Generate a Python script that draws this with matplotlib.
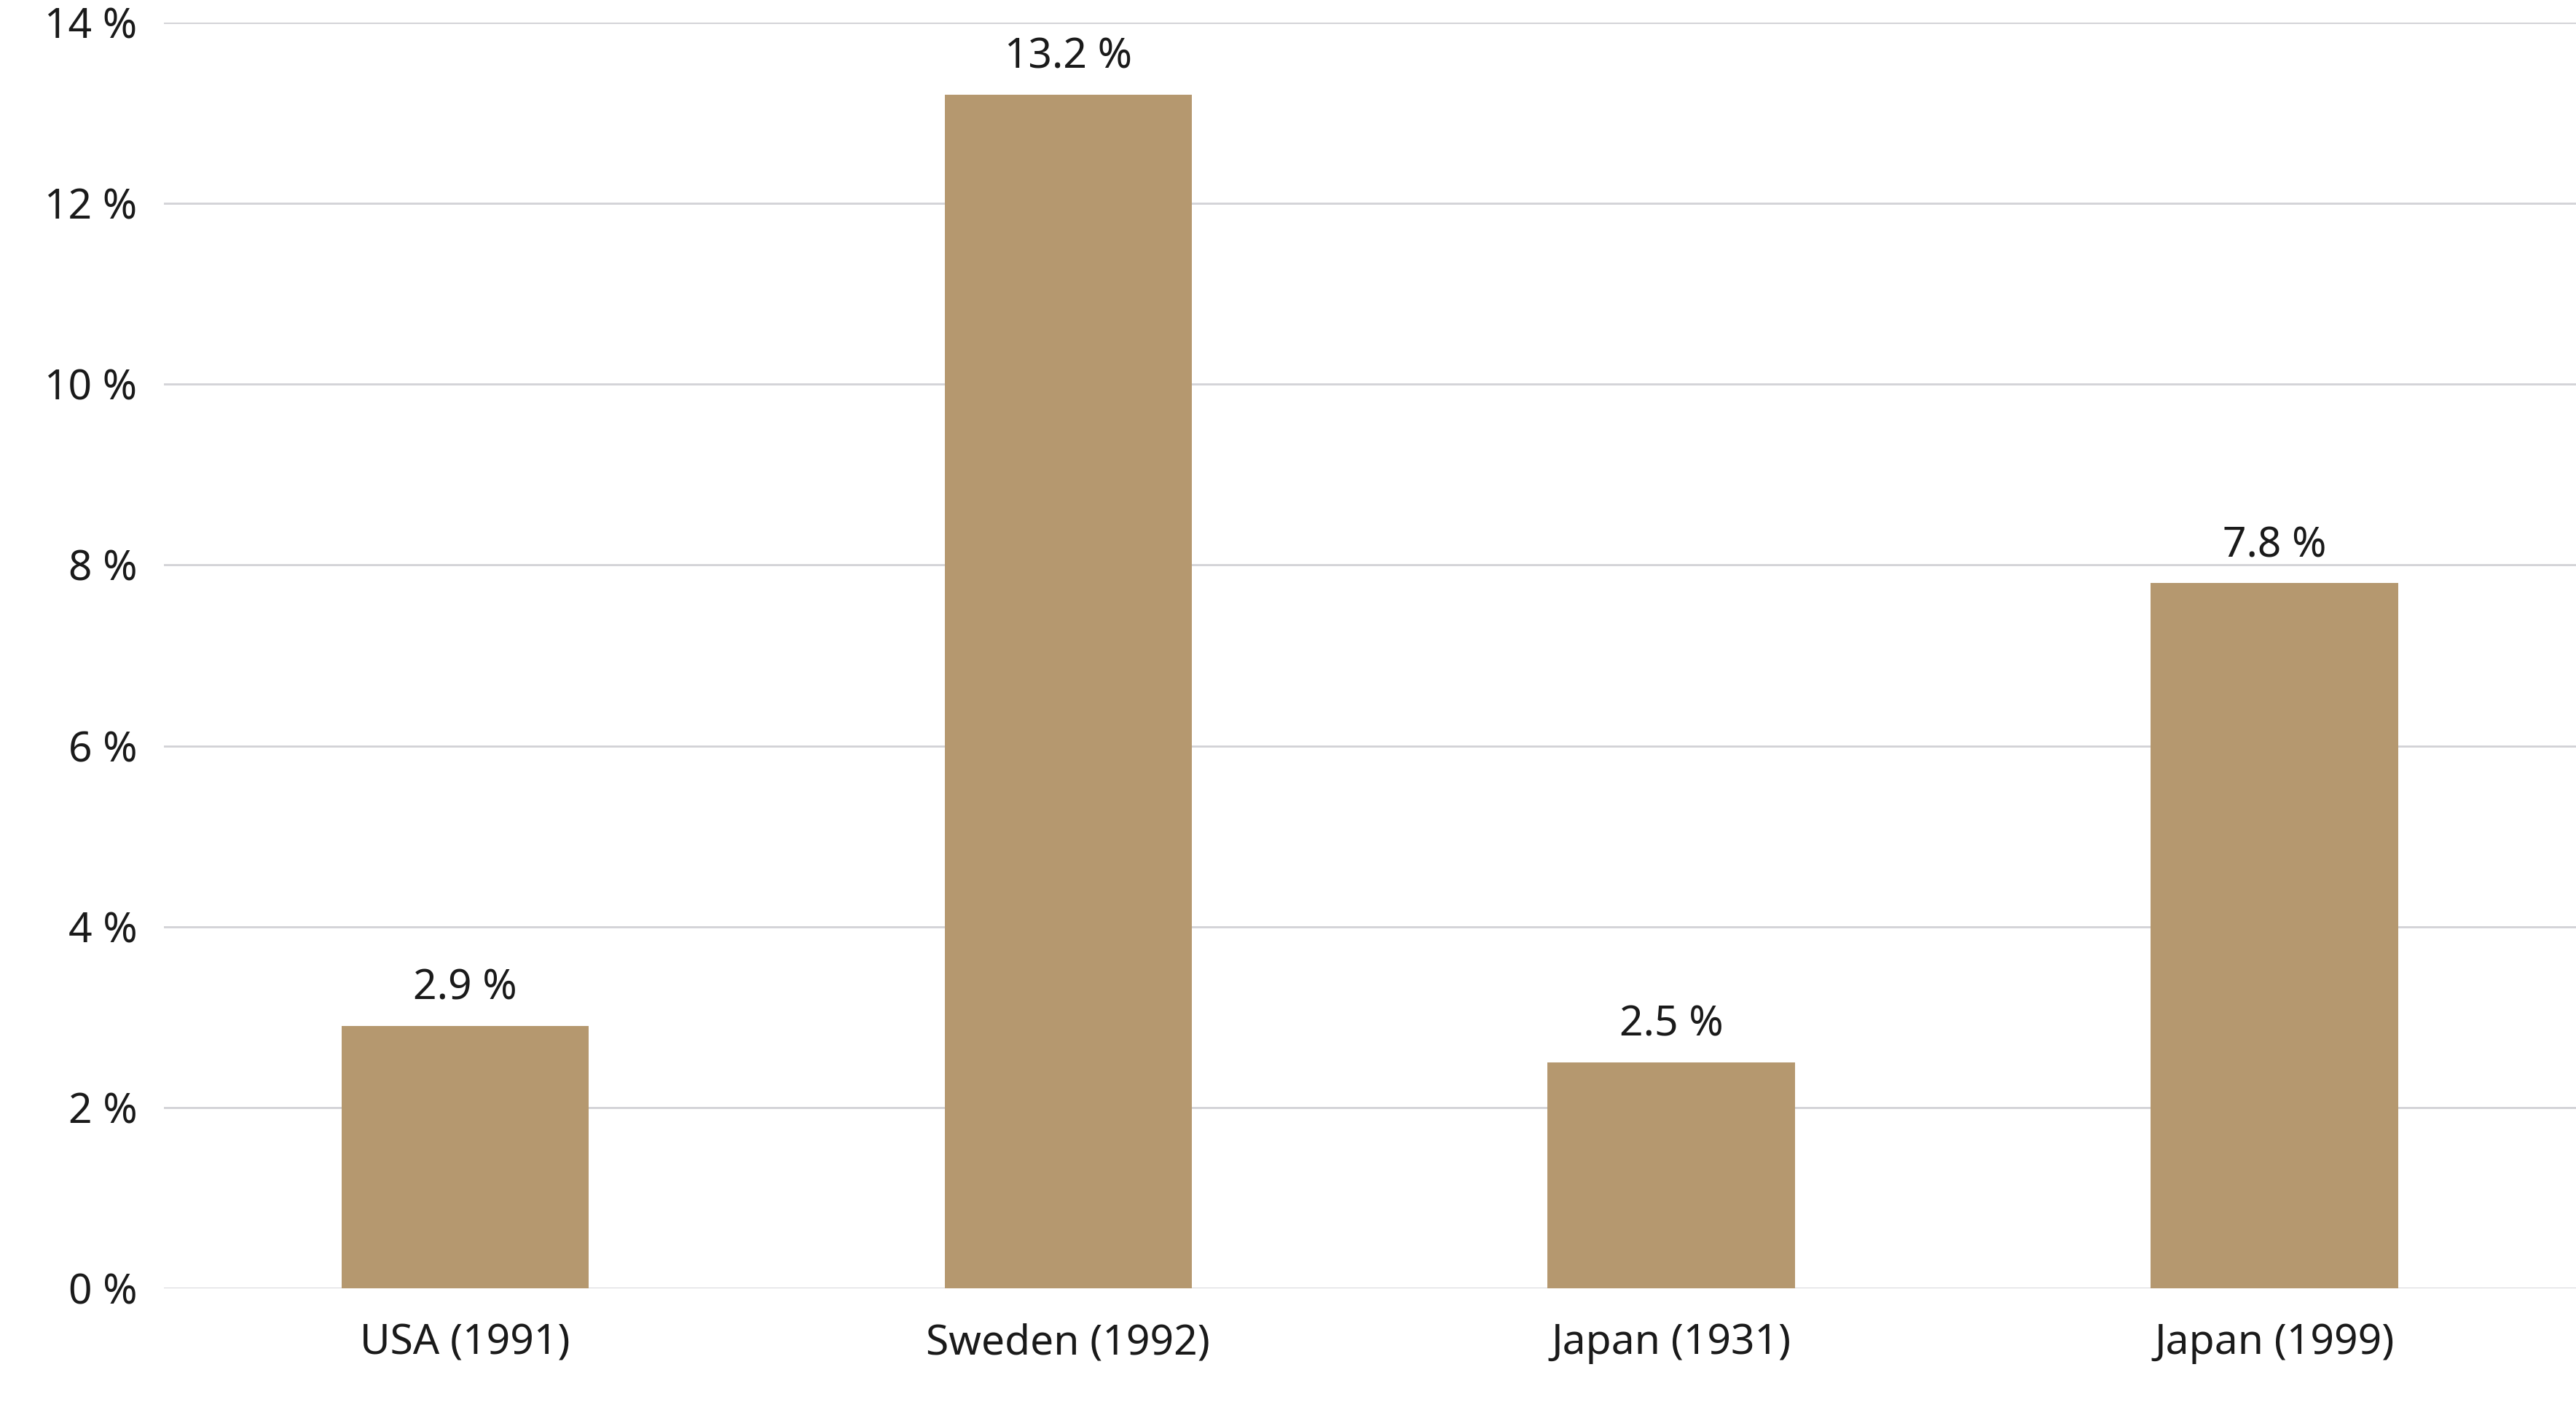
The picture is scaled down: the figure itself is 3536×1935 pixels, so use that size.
import matplotlib
matplotlib.use("Agg")
import matplotlib.pyplot as plt
from matplotlib.ticker import FuncFormatter

categories = ["USA (1991)", "Sweden (1992)", "Japan (1931)", "Japan (1999)"]
values = [2.9, 13.2, 2.5, 7.8]
yticks = [0, 2, 4, 6, 8, 10, 12, 14]

plt.rcParams['font.family'] = ['Noto Sans', 'DejaVu Sans']

fig = plt.figure(figsize=(17.68, 9.675), dpi=200)
ax = fig.add_axes([0.0635, 0.0863, 0.9365, 0.8977])

x = list(range(len(categories)))
bars = ax.bar(x, values, width=0.41, color="#b5986f", zorder=3)

for xi, v in zip(x, values):
    ax.annotate(f"{v:.1f} %", (xi, v), xytext=(0, 8), textcoords="offset points",
                ha="center", va="bottom", fontsize=20.5, color="#1a1a1a")

ax.set_xlim(-0.5, 3.5)
ax.set_ylim(0, 14)
ax.set_yticks(yticks)
ax.yaxis.set_major_formatter(FuncFormatter(lambda v, p: f"{int(v)} %"))
ax.set_xticks(x)
ax.set_xticklabels(categories)

ax.grid(axis="y", color="#d2d2d6", linewidth=1.0, zorder=0)
ax.set_axisbelow(True)
for s in ax.spines.values():
    s.set_visible(False)
ax.tick_params(axis="both", length=0, labelsize=20.5, colors="#1a1a1a")
ax.tick_params(axis="y", pad=13)
ax.tick_params(axis="x", pad=17)

fig.savefig("out.png", dpi=200)
